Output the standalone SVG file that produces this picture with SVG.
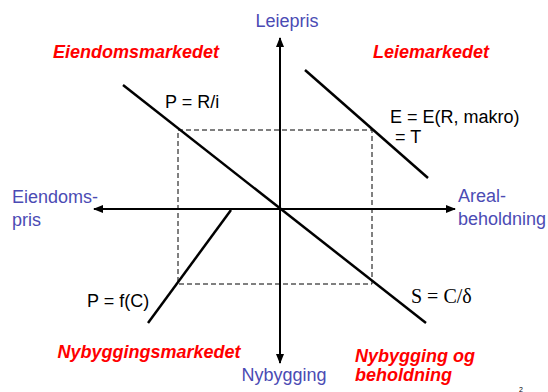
<svg xmlns="http://www.w3.org/2000/svg" width="548" height="392" viewBox="0 0 548 392">
<defs>
<style>
.ax{font-family:"Liberation Sans",Arial,sans-serif;font-size:18px;fill:#4b4bb4}
.mk{font-family:"Liberation Sans",Arial,sans-serif;font-size:18px;font-weight:bold;font-style:italic;fill:#ff0000}
.eq{font-family:"Liberation Sans",Arial,sans-serif;font-size:18px;fill:#000}
.eqs{font-family:"Liberation Serif","Times New Roman",serif;font-size:20px;fill:#000}
.axis{stroke:#000;stroke-width:2;fill:none;marker-end:url(#arr)}
.curve{stroke:#000;stroke-width:2.5;fill:none}
.dash{stroke:#000;stroke-width:1;fill:none;stroke-dasharray:5 3}
</style>
<marker id="arr" viewBox="0 0 10 10" refX="9" refY="5" markerWidth="5" markerHeight="5" markerUnits="strokeWidth" orient="auto">
<path d="M0,1 L10,5 L0,9 Z" fill="#000"/>
</marker>
</defs>
<rect width="548" height="392" fill="#fff"/>
<g id="connectors">
<rect class="dash" x="178" y="130" width="194" height="154"/>
<line class="axis" x1="280" y1="209" x2="280" y2="38"/>
<line class="axis" x1="280" y1="209" x2="280" y2="363"/>
<line class="axis" x1="280" y1="209" x2="94" y2="209"/>
<line class="axis" x1="280" y1="209" x2="455" y2="209"/>
<line class="curve" x1="123" y1="85" x2="426" y2="323"/>
<line class="curve" x1="305" y1="70" x2="428" y2="178"/>
<line class="curve" x1="148" y1="323" x2="231" y2="210"/>
</g>
<g id="axis-leiepris"><text class="ax" x="287" y="27" text-anchor="middle">Leiepris</text></g>
<g id="axis-eiendomspris"><text class="ax" x="12" y="203">Eiendoms-</text><text class="ax" x="12" y="226">pris</text></g>
<g id="axis-areal"><text class="ax" x="458" y="202">Areal-</text><text class="ax" x="458" y="225">beholdning</text></g>
<g id="axis-nybygging"><text class="ax" x="284" y="381" text-anchor="middle">Nybygging</text></g>
<g id="market-eiendom"><text class="mk" x="136" y="58" text-anchor="middle">Eiendomsmarkedet</text></g>
<g id="market-leie"><text class="mk" x="431" y="58" text-anchor="middle">Leiemarkedet</text></g>
<g id="market-nybygging"><text class="mk" x="149" y="358" text-anchor="middle">Nybyggingsmarkedet</text></g>
<g id="market-nybygging-beholdning"><text class="mk" x="355" y="362">Nybygging og</text><text class="mk" x="355" y="381">beholdning</text></g>
<g id="eq-p-ri"><text class="eq" x="165" y="108">P = R/i</text></g>
<g id="eq-e"><text class="eq" x="390" y="123">E = E(R, makro)</text><text class="eq" x="395" y="143">= T</text></g>
<g id="eq-pfc"><text class="eq" x="87" y="307">P = f(C)</text></g>
<g id="eq-s"><text class="eqs" x="411" y="303">S = C/δ</text></g>
<g id="page-number"><text class="eq" x="519" y="391.5" style="font-size:7px">2</text></g>
</svg>
